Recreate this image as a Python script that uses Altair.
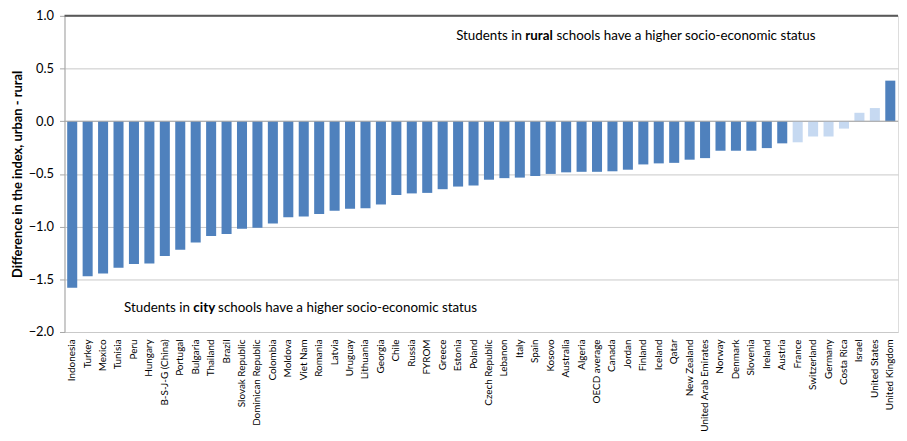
import altair as alt
import pandas as pd

countries = [
    "Indonesia", "Turkey", "Mexico", "Tunisia", "Peru", "Hungary", "B-S-J-G (China)",
    "Portugal", "Bulgaria", "Thailand", "Brazil", "Slovak Republic", "Dominican Republic",
    "Colombia", "Moldova", "Viet Nam", "Romania", "Latvia", "Uruguay", "Lithuania",
    "Georgia", "Chile", "Russia", "FYROM", "Greece", "Estonia", "Poland", "Czech Republic",
    "Lebanon", "Italy", "Spain", "Kosovo", "Australia", "Algeria", "OECD average",
    "Canada", "Jordan", "Finland", "Iceland", "Qatar", "New Zealand",
    "United Arab Emirates", "Norway", "Denmark", "Slovenia", "Ireland", "Austria",
    "France", "Switzerland", "Germany", "Costa Rica", "Israel", "United States",
    "United Kingdom",
]
values = [
    -1.58, -1.47, -1.445, -1.39, -1.355, -1.35, -1.28,
    -1.22, -1.15, -1.09, -1.07, -1.02, -1.01,
    -0.97, -0.91, -0.905, -0.88, -0.85, -0.83, -0.825,
    -0.79, -0.70, -0.685, -0.68, -0.645, -0.62, -0.61, -0.555,
    -0.54, -0.535, -0.52, -0.50, -0.485, -0.48, -0.48,
    -0.475, -0.46, -0.41, -0.40, -0.395, -0.365,
    -0.35, -0.28, -0.28, -0.28, -0.255, -0.21,
    -0.20, -0.145, -0.145, -0.07, 0.08, 0.125,
    0.385,
]
significant = [True] * 47 + [False] * 6 + [True]

df = pd.DataFrame({
    "country": countries,
    "value": values,
    "sig": ["Significant" if s else "Not significant" for s in significant],
})

FONT = "Lato"
ANN_SIZE = 13.5

y_scale = alt.Scale(domain=[-2, 1], nice=False, zero=False)

bars = alt.Chart(df).mark_bar().encode(
    x=alt.X("country:N", sort=countries,
            scale=alt.Scale(paddingInner=0.35, paddingOuter=0.175),
            axis=alt.Axis(title=None, labelAngle=-90, labelFontSize=10,
                          labelFont=FONT, labelColor="#000000", tickSize=0,
                          labelPadding=7, domain=False, grid=False,
                          labelOverlap=False)),
    y=alt.Y("value:Q", scale=y_scale,
            axis=alt.Axis(title="Difference in the index, urban - rural",
                          values=[-2.0, -1.5, -1.0, -0.5, 0.0, 0.5, 1.0],
                          format=".1f", labelFontSize=13, labelFont=FONT,
                          labelColor="#000000", titleFont=FONT,
                          titleFontSize=13, titleFontWeight="bold",
                          titleColor="#000000", titlePadding=4,
                          tickSize=5, tickColor="#A6A6A6", labelPadding=6,
                          domainColor="#A6A6A6", gridColor="#C8C8C8")),
    color=alt.Color("sig:N",
                    scale=alt.Scale(domain=["Significant", "Not significant"],
                                    range=["#4F81BD", "#C6D9F1"]),
                    legend=None),
)

zero_rule = alt.Chart().mark_rule(color="#A6A6A6", strokeWidth=1).encode(
    y=alt.datum(0, scale=y_scale))
top_rule = alt.Chart().mark_rule(color="#595959", strokeWidth=2).encode(
    y=alt.datum(1.0, scale=y_scale))


def ann(text, x, y, bold=False, align="left"):
    return alt.Chart().mark_text(
        text=text, align=align, baseline="alphabetic", font=FONT, fontSize=ANN_SIZE,
        fontWeight="bold" if bold else "normal", color="#000000",
    ).encode(x=alt.value(x), y=alt.value(y))


annotations = [
    ann("Students in", 461.5, 24, align="right"),
    ann("rural", 465, 24, bold=True),
    ann("schools have a higher socio-economic status", 496.5, 24),
    ann("Students in", 126.5, 299, align="right"),
    ann("city", 130, 299, bold=True),
    ann("schools have a higher socio-economic status", 155, 299),
]

chart = alt.layer(bars, zero_rule, top_rule, *annotations).properties(
    width=841, height=319,
    autosize=alt.AutoSizeParams(type="none"),
    padding={"left": 57, "top": 6, "right": 1, "bottom": 100},
).configure_view(stroke="#A6A6A6").configure(background="#FFFFFF")

chart.save("out.html", embed_options={"renderer": "svg", "actions": False})
